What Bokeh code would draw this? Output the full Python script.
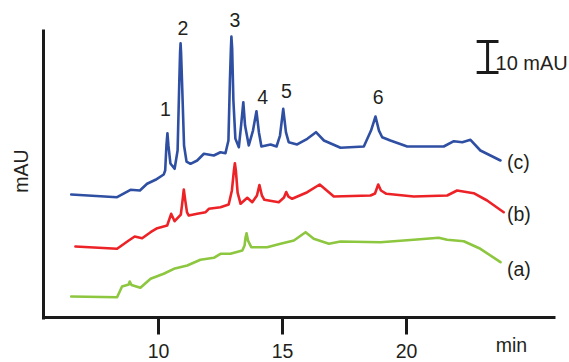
import math
from bokeh.plotting import figure
from bokeh.models import LinearAxis, FixedTicker, Range1d, Label, LabelSet, ColumnDataSource
from bokeh.core.properties import value
from bokeh.embed import file_html
from bokeh.resources import INLINE

# ---------------- data (retention time in min, absorbance in mAU, traces as stacked) ----------------
t_c = [6.48, 8.33, 8.87, 9.25, 9.54, 9.88, 10.21, 10.27, 10.32, 10.36, 10.40, 10.48, 10.65,
       10.77, 10.84, 10.87, 10.89, 10.91, 10.96, 11.03, 11.13, 11.29, 11.56, 11.83, 12.23, 12.50,
       12.70, 12.82, 12.88, 12.92, 12.94, 12.97, 13.02, 13.10, 13.24, 13.33, 13.42, 13.49, 13.64,
       13.81, 13.95, 14.05, 14.15, 14.52, 14.76, 14.90, 15.03, 15.14, 15.25, 15.59, 16.00, 16.35,
       16.67, 17.34, 18.28, 18.57, 18.75, 18.89, 19.02, 19.35, 20.03, 20.97, 21.50, 21.91, 22.25,
       22.58, 22.98, 23.79]
A_c = [39.68, 38.81, 41.19, 40.97, 43.13, 44.42, 46.13, 47.4, 55.5, 59.45, 55.5, 49.7, 47.97,
       53.87, 76.45, 85.5, 88.48, 85.5, 73.2, 55.5, 50.3, 49.58, 50.65, 52.81, 52.26, 53.32,
       53.00, 57.1, 76.45, 86.8, 90.65, 86.8, 70.0, 57.7, 54.94, 61.9, 69.45, 61.9, 55.48,
       60.3, 66.55, 59.7, 55.16, 55.81, 55.16, 58.7, 67.32, 59.7, 56.55, 55.81, 57.65, 59.77,
       57.10, 54.74, 55.16, 60.3, 64.84, 60.3, 58.16, 57.10, 55.16, 55.16, 55.16, 56.87, 56.55,
       57.32, 53.87, 50.65]

t_b = [6.65, 8.33, 8.80, 9.04, 9.34, 9.68, 9.95, 10.35, 10.51, 10.65, 10.90, 10.97, 11.02, 11.08,
       11.15, 11.22, 11.56, 11.90, 12.03, 12.50, 12.83, 12.96, 13.04, 13.08, 13.12, 13.19, 13.31,
       13.58, 13.78, 13.97, 14.07, 14.17, 14.27, 14.85, 15.06, 15.15, 15.24, 15.39, 16.00, 16.50,
       17.07, 18.55, 18.73, 18.86, 18.97, 19.19, 20.29, 21.64, 22.04, 22.71, 23.25, 23.92]
A_b = [22.90, 22.16, 24.84, 26.13, 25.58, 27.52, 28.81, 29.68, 33.45, 31.06, 33.2, 37.7, 41.29, 37.7,
       33.9, 32.90, 33.45, 33.97, 35.06, 35.58, 36.45, 40.97, 47.4, 49.77, 47.4, 40.3, 36.68,
       38.61, 37.19, 39.35, 42.74, 39.35, 37.97, 37.19, 38.7, 40.48, 39.0, 38.29, 40.42, 42.90,
       39.03, 39.35, 40.0, 42.90, 40.97, 39.90, 39.03, 39.35, 40.97, 40.10, 37.74, 33.97]

t_a = [6.48, 8.33, 8.53, 8.80, 8.84, 8.91, 9.27, 9.68, 10.21, 10.62, 11.16, 11.69, 12.23, 12.50,
       12.90, 13.38, 13.47, 13.51, 13.55, 13.61, 13.74, 14.38, 14.92, 15.46, 15.93, 16.26, 16.87,
       17.34, 18.95, 20.29, 21.30, 21.64, 22.31, 22.98, 23.79]
A_a = [6.77, 6.55, 10.00, 10.65, 11.61, 10.48, 9.58, 12.48, 14.10, 15.71, 16.77, 18.61, 19.26, 20.55,
       20.55, 21.61, 23.2, 25.8, 27.19, 24.8, 22.68, 22.68, 23.77, 24.84, 27.52, 25.39, 23.77,
       24.52, 24.29, 25.06, 25.71, 25.06, 24.61, 22.16, 17.84]

peak_ids = ["1", "2", "3", "4", "5", "6"]
peak_t = [10.28, 10.98, 13.08, 14.20, 15.16, 18.86]
peak_label_A = [65.06, 91.29, 93.55, 69.03, 70.87, 68.94]

trace_names = ["(a)", "(b)", "(c)"]
trace_label_A = [15.71, 33.45, 50.10]

tick_values = [10, 15, 20]

scale_bar_mAU = 10
scale_bar_label = "10 mAU"

# ---------------- styling / layout ----------------
FONT = "Liberation Sans"
TXT = "#231f20"
AX = "#1a1a1a"
BLUE = "#2f4fa2"
RED = "#ec2227"
GREEN = "#8dc63f"
FS = "19.5px"

X_LEFT, X_RIGHT = 5.363, 26.008      # extent of the drawn time axis (min)
Y_TOP = 92.8                         # top of the drawn mAU axis

p = figure(width=569, height=362, output_backend="svg", toolbar_location=None,
           x_range=Range1d(3.629, 26.573), y_range=Range1d(-14.516, 102.258),
           x_axis_location=None, y_axis_location=None,
           min_border_left=0, min_border_right=0, min_border_top=0, min_border_bottom=0)
p.outline_line_color = None
p.xgrid.visible = False
p.ygrid.visible = False
p.background_fill_color = "white"
p.border_fill_color = "white"

xaxis = LinearAxis(ticker=FixedTicker(ticks=tick_values, minor_ticks=[]),
                   fixed_location=0, bounds=(X_LEFT - 0.06, X_RIGHT))
xaxis.axis_line_width = 3
xaxis.axis_line_color = AX
xaxis.major_tick_line_width = 3
xaxis.major_tick_line_color = AX
xaxis.major_tick_out = 17
xaxis.major_tick_in = 0
xaxis.minor_tick_out = 0
xaxis.minor_tick_in = 0
xaxis.major_label_text_font = FONT
xaxis.major_label_text_font_size = FS
xaxis.major_label_text_color = TXT
xaxis.major_label_standoff = 9
p.add_layout(xaxis, "below")

yaxis = LinearAxis(ticker=FixedTicker(ticks=[], minor_ticks=[]),
                   fixed_location=X_LEFT, bounds=(-0.5, Y_TOP))
yaxis.axis_line_width = 3
yaxis.axis_line_color = AX
yaxis.major_tick_out = 0
yaxis.major_tick_in = 0
yaxis.minor_tick_out = 0
yaxis.minor_tick_in = 0
yaxis.major_label_text_font = FONT
yaxis.major_label_text_font_size = FS
p.add_layout(yaxis, "left")

for tt, aa, col in [(t_a, A_a, GREEN), (t_b, A_b, RED), (t_c, A_c, BLUE)]:
    p.line(tt, aa, line_color=col, line_width=2.6, line_join="round", line_cap="round")

# scale bar
bar_t = 23.27
bar_bottom = 79.03
half_w = 0.44
p.segment(x0=[bar_t, bar_t - half_w, bar_t - half_w],
          y0=[bar_bottom, bar_bottom, bar_bottom + scale_bar_mAU],
          x1=[bar_t, bar_t + half_w, bar_t + half_w],
          y1=[bar_bottom + scale_bar_mAU, bar_bottom, bar_bottom + scale_bar_mAU],
          line_color=AX, line_width=3)
p.add_layout(Label(x=23.59, y=82.1, text=scale_bar_label, text_font=FONT, text_font_size="20px",
                   text_color=TXT, text_align="left", text_baseline="alphabetic"))

# peak labels
p.add_layout(LabelSet(source=ColumnDataSource(dict(x=peak_t, y=peak_label_A, t=peak_ids)),
                      x="x", y="y", text="t", text_font=value(FONT), text_font_size=FS,
                      text_color=TXT, text_align="center", text_baseline="alphabetic"))

# trace labels
p.add_layout(LabelSet(source=ColumnDataSource(dict(x=[24.05] * 3, y=trace_label_A, t=trace_names)),
                      x="x", y="y", text="t", text_font=value(FONT), text_font_size=FS,
                      text_color=TXT, text_align="left", text_baseline="middle"))

# axis titles
p.add_layout(Label(x=24.23, y=-9.03, text="min", text_font=FONT, text_font_size=FS,
                   text_color=TXT, text_align="center", text_baseline="alphabetic"))
p.add_layout(Label(x=4.44, y=47.26, text="mAU", angle=math.pi / 2, text_font=FONT,
                   text_font_size=FS, text_color=TXT, text_align="center", text_baseline="middle"))

open("out.html", "w").write(file_html(p, INLINE))
